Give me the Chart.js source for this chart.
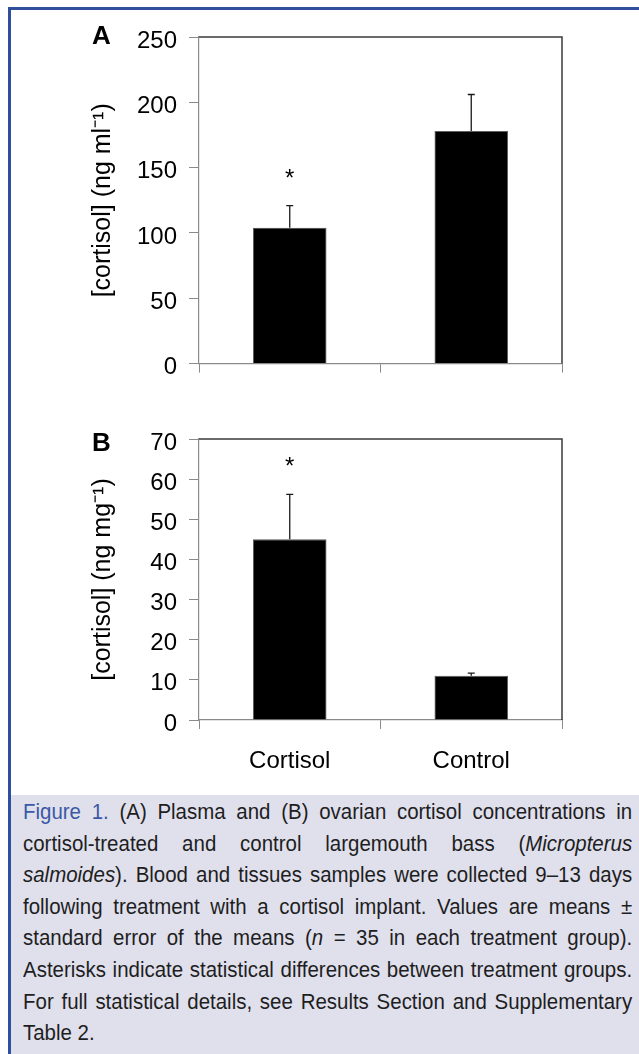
<!DOCTYPE html>
<html>
<head>
<meta charset="utf-8">
<script src="https://cdn.jsdelivr.net/npm/chart.js@4"></script>
<style>
  html, body { margin: 0; padding: 0; background: #fff; }
  body { width: 639px; height: 1054px; position: relative; overflow: hidden; }
  .rule-top { position: absolute; left: 8px; top: 7px; width: 631px; height: 3px; background: #2f4f9c; }
  .rule-left { position: absolute; left: 8px; top: 7px; width: 3px; height: 1047px; background: #2f4f9c; }
  .panel { position: absolute; left: 0; width: 639px; }
  .letter { position: absolute; left: 92px; font: bold 26px "Liberation Sans", Arial, sans-serif; line-height: 1; color: #000; }
  .caption-box { position: absolute; left: 11px; top: 795px; width: 628px; height: 259px; background: #e0e0ed; }
  /* caption set in a slightly wider box and squeezed, the original face is a bit narrower than Arial */
  .caption { position: absolute; left: 23px; top: 796px; width: 655px;
    transform: scaleX(0.93); transform-origin: 0 0;
    font-family: "Liberation Sans", Arial, sans-serif; font-size: 22px;
    line-height: 31.6px; color: #1e1e1e; }
  .caption div { text-align: justify; text-align-last: justify; white-space: nowrap; }
  .caption div.last { text-align-last: left; }
  .fig { color: #3b58a5; }
</style>
</head>
<body>
<div class="rule-top"></div>
<div class="rule-left"></div>

<div class="panel" style="top:0; height:390px;"><canvas id="plasmaChart"></canvas></div>
<div class="letter" style="top:21.6px;">A</div>

<div class="panel" style="top:390px; height:405px;"><canvas id="ovaryChart"></canvas></div>
<div class="letter" style="top:428.6px;">B</div>

<div class="caption-box"></div>
<div class="caption">
  <div><span class="fig">Figure 1.</span> (A) Plasma and (B) ovarian cortisol concentrations in</div>
  <div>cortisol-treated and control largemouth bass (<i>Micropterus</i></div>
  <div><i>salmoides</i>). Blood and tissues samples were collected 9–13 days</div>
  <div>following treatment with a cortisol implant. Values are means ±</div>
  <div>standard error of the means (<i>n</i> = 35 in each treatment group).</div>
  <div>Asterisks indicate statistical differences between treatment groups.</div>
  <div>For full statistical details, see Results Section and Supplementary</div>
  <div class="last">Table 2.</div>
</div>

<script>
////////////data////////////
var groups = ['Cortisol', 'Control'];

// panel A - plasma, ng/ml
var plasmaMeans = [104, 178];
var plasmaErr = [17, 28];
var plasmaStars = [141, null];   // where the asterisk sits (axis units)
var plasmaTicks = [0, 250, 50];  // min, max, step

// panel B - ovary, ng/mg
var ovaryMeans = [45, 11];
var ovaryErr = [11.2, 0.7];
var ovaryStars = [63, null];
var ovaryTicks = [0, 70, 10];

var axisFont = { family: 'Liberation Sans, Arial, sans-serif', size: 24 };
var axisGray = '#8a8a8a';

////////////plugins////////////
// top and right edge of the plot box (axes themselves are gray)
var plotFrame = {
  id: 'plotFrame',
  afterDatasetsDraw: function(chart) {
    var a = chart.chartArea, ctx = chart.ctx;
    ctx.save();
    ctx.strokeStyle = '#3a3a3a';
    ctx.lineWidth = 1.5;
    ctx.beginPath();
    ctx.moveTo(a.left, a.top);
    ctx.lineTo(a.right, a.top);
    ctx.lineTo(a.right, a.bottom);
    ctx.stroke();
    ctx.restore();
  }
};

// upper error bars + asterisks
var errorBars = {
  id: 'errorBars',
  afterDatasetsDraw: function(chart, args, opts) {
    var ctx = chart.ctx, y = chart.scales.y;
    var bars = chart.getDatasetMeta(0).data;
    ctx.save();
    bars.forEach(function(bar, i) {
      var top = y.getPixelForValue(opts.means[i] + opts.errs[i]);
      ctx.strokeStyle = '#1a1a1a';
      ctx.lineWidth = 1.3;
      ctx.beginPath();
      ctx.moveTo(bar.x, bar.y);
      ctx.lineTo(bar.x, top);
      ctx.moveTo(bar.x - 3.5, top);
      ctx.lineTo(bar.x + 3.5, top);
      ctx.stroke();
      if (opts.stars[i] != null) {
        ctx.fillStyle = '#000';
        ctx.font = '24px Liberation Sans, Arial, sans-serif';
        ctx.textAlign = 'center';
        ctx.textBaseline = 'middle';
        ctx.fillText('*', bar.x, y.getPixelForValue(opts.stars[i]));
      }
    });
    ctx.restore();
  }
};

////////////build one panel////////////
function makePanel(canvasId, means, errs, stars, tickSet, yTitle, opt) {
  return new Chart(document.getElementById(canvasId), {
    type: 'bar',
    data: {
      labels: groups,
      datasets: [{
        data: means,
        backgroundColor: '#000',
        borderColor: '#555',
        borderWidth: 0.8,
        barPercentage: 0.405,
        categoryPercentage: 1
      }]
    },
    plugins: [plotFrame, errorBars],
    options: {
      responsive: true,
      maintainAspectRatio: false,
      animation: false,
      layout: { padding: { top: opt.padTop, right: 77, left: 0, bottom: 0 } },
      plugins: {
        legend: { display: false },
        tooltip: { enabled: false },
        errorBars: { means: means, errs: errs, stars: stars }
      },
      scales: {
        x: {
          grid: { display: true, drawOnChartArea: false, drawTicks: true, tickLength: 9, color: axisGray, offset: true },
          border: { display: true, color: axisGray, width: 1.2 },
          ticks: { display: opt.showLabels, color: '#000', font: axisFont, padding: 18, maxRotation: 0 },
          afterFit: function(s) { s.height = opt.xHeight; }
        },
        y: {
          min: tickSet[0],
          max: tickSet[1],
          grid: { display: true, drawOnChartArea: false, drawTicks: true, tickLength: 10, color: axisGray },
          border: { display: true, color: axisGray, width: 1.2 },
          ticks: { stepSize: tickSet[2], color: '#000', font: axisFont, padding: 12, labelOffset: 4 },
          title: { display: true, text: yTitle, color: '#000', font: { family: axisFont.family, size: 25 }, padding: { top: 88, bottom: 0 } },
          afterFit: function(s) { s.width = 199; }
        }
      }
    }
  });
}

makePanel('plasmaChart', plasmaMeans, plasmaErr, plasmaStars, plasmaTicks,
  '[cortisol] (ng ml\u207B\u00B9)', { padTop: 37, xHeight: 23, showLabels: false });
makePanel('ovaryChart', ovaryMeans, ovaryErr, ovaryStars, ovaryTicks,
  '[cortisol] (ng mg\u207B\u00B9)', { padTop: 49, xHeight: 75, showLabels: true });
</script>
</body>
</html>
